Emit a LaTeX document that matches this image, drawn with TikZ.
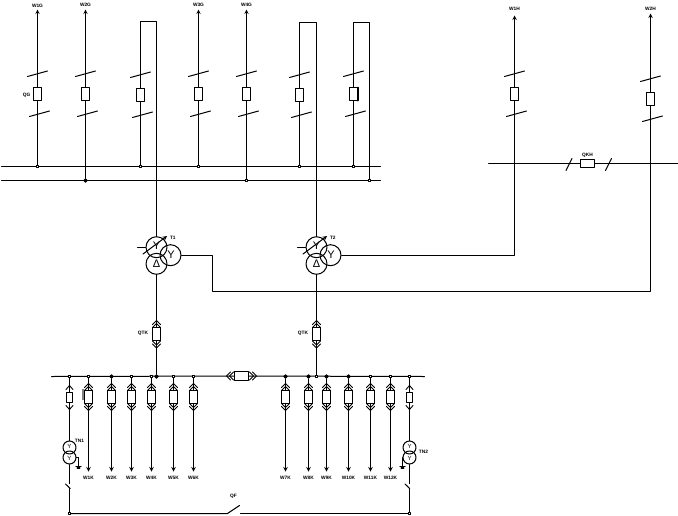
\documentclass[tikz,border=0pt]{standalone}
\usepackage{fontspec}
\setmainfont{Liberation Sans}
\begin{document}
\begin{tikzpicture}[x=1pt,y=-1pt,line join=round,line cap=round,>=stealth,line width=1pt]
	\tikzset{
		wlabel/.style={font=\fontsize{4.8}{5}\selectfont\bfseries,inner sep=0pt},
		brk/.style={draw,fill=white,minimum width=8pt,minimum height=13pt,inner sep=0pt},
		fuse/.style={draw,fill=white,minimum width=6pt,minimum height=10pt,inner sep=0pt},
		opendot/.style={draw,fill=white,rectangle,minimum size=2pt,inner sep=0pt},
		fulldot/.style={draw,fill=black,circle,minimum size=3.5pt,inner sep=0pt},
		winding/.style={draw,circle,minimum size=21pt,inner sep=0pt},
		small/.style={draw,circle,minimum size=13pt,inner sep=0pt},
		sym/.style={font=\fontsize{11}{11}\selectfont,inner sep=0pt},
		chev/.pic={\draw[line width=.9pt] (-4,4)--(0,0)--(4,4);
			\draw[line width=.9pt] (-4,7)--(0,3)--(4,7);},
		chevone/.pic={\draw[line width=.9pt] (-3.5,4)--(0,0)--(3.5,4);}
	}
	\useasboundingbox (-.5,-.5) rectangle (677.5,514.5);
	% busbars
	\coordinate (awest) at (1,166);
	\coordinate (aeast) at (380,166);
	\coordinate (bwest) at (1,180);
	\coordinate (beast) at (380,180);
	\draw (awest)--(aeast);
	\draw (bwest)--(beast);
	\node[brk,minimum width=14pt,minimum height=8pt] (qkh) at (587,163) {};
	\coordinate (cwest) at (488,163);
	\coordinate (ceast) at (678,163);
	\draw (cwest)--(qkh)--(ceast);
	\node[wlabel] (lqkh) at (587,154.5) {QKH};
	\draw (565.5,170)--(571.5,158);
	\draw (605,170)--(611,158);
	% breakers on the top feeders
	\foreach \n/\x/\yc in {a/37/93.5,b/85/93.5,c/140/94.5,d/198/93.5,e/246/93.5,f/299/94.5,g/353/93.5,h/514/93.5,i/650/98.5}{
		\node[brk] (q\n) at (\x,\yc) {};
		\draw ({\x-10},{\yc-17.5})--({\x+10},{\yc-23});
		\draw ({\x-8},{\yc+22.5})--({\x+12},{\yc+17});
	}
	\draw[line width=2pt] (357.5,87)--(357.5,100);
	\node[wlabel] (lqg) at (26,95) {QG};
	% feeders with an arrow
	\foreach \n/\x/\ytop/\ylab/\txt in {a/37/9/5.5/W1G,b/85/9/4/W2G,d/198/9/4/W3G,e/246/9/4/W4G,h/514/15/8/W1H,i/650/13/8/W2H}{
		\coordinate (top\n) at (\x,\ytop);
		\draw[->] (q\n)--(top\n);
		\node[wlabel] (l\n) at (\x,\ylab) {\txt};
	}
	% bus points of the top feeders
	\node[opendot] (da) at (37,166) {};
	\node[fulldot] (db) at (85,180) {};
	\node[opendot] (dc) at (140,166) {};
	\node[opendot] (dd) at (198,166) {};
	\node[opendot] (de) at (246,180) {};
	\node[opendot] (df) at (299,166) {};
	\node[opendot] (dg) at (353,166) {};
	\node[opendot] (dg2) at (369,180) {};
	\foreach \n in {a,b,c,d,e,f,g}
	\draw (q\n)--(d\n);
	\coordinate (topg) at (369,22);
	\draw (qg.north) |- (topg)--(dg2);
	% transformers
	\foreach \n/\x/\txt in {1/156/T1,2/316/T2}{
		\node[winding] (t\n u) at (\x,246.7) {};
		\node[winding] (t\n l) at (\x,263.3) {};
		\node[winding] (t\n r) at ({\x+14},254.7) {};
		\node[sym] (y\n u) at (\x,245.5) {Y};
		\node[sym] (y\n r) at ({\x+14.5},254.7) {Y};
		\node[sym] (y\n l) at (\x,263.5) {Δ};
		\coordinate (st\n) at ({\x-19},246.7);
		\draw (st\n)--(t\n u);
		\draw[->] ({\x-13.5},253.5)--({\x+10.5},235.5);
		\node[wlabel,anchor=west] (lt\n) at ({\x+13},237.5) {\txt};
		\node[brk] (qtk\n) at (\x,333.5) {};
		\pic at (\x,320) {chev};
		\pic[rotate=180] at (\x,347.5) {chev};
		\node[wlabel] (lqtk\n) at ({\x-13.5},333) {QTK};
		\draw (t\n l)--(qtk\n);
	}
	\coordinate (tc) at (156,21);
	\coordinate (tf) at (316,22);
	\draw (qc.north) |- (tc)--(t1u);
	\draw (qf.north) |- (tf)--(t2u);
	\coordinate (lnk) at (212,291);
	\draw (t1r.east) -| (lnk) -| (qi.south);
	\draw (t2r.east) -| (qh.south);
	% low voltage bus
	\coordinate (lvwest) at (51,376);
	\coordinate (lveast) at (424,376);
	\node[brk,minimum width=14pt,minimum height=9pt] (qk) at (241,375.5) {};
	\draw (lvwest)--(qk)--(lveast);
	\pic[rotate=90] at (226,375.5) {chev};
	\pic[rotate=-90] at (256,375.5) {chev};
	\node[fulldot] (jt1) at (156,376) {};
	\node[opendot] (jt2) at (316,376) {};
	\draw (qtk1)--(jt1);
	\draw (qtk2)--(jt2);
	% low voltage feeders
	\foreach \n/\x/\dot/\txt in {1/88/opendot/W1K,2/111/fulldot/W2K,3/131/opendot/W3K,4/151/opendot/W4K,5/173/opendot/W5K,6/193/opendot/W6K,7/285/fulldot/W7K,8/308/fulldot/W8K,9/326/fulldot/W9K,10/348/fulldot/W10K,11/370/opendot/W11K,12/390/opendot/W12K}{
		\node[\dot] (k\n) at (\x,376) {};
		\node[brk] (qf\n) at (\x,396.5) {};
		\coordinate (e\n) at (\x,471);
		\draw (k\n)--(qf\n);
		\draw[->] (qf\n)--(e\n);
		\pic at (\x,383) {chev};
		\pic[rotate=180] at (\x,410) {chev};
		\node[wlabel] (lk\n) at (\x,477.5) {\txt};
	}
	\draw[gray,line width=2.5pt,line cap=butt] (82.5,388)--(82.5,399);
	% voltage transformers and the tie
	\foreach \n/\x/\gx/\bx/\gs in {1/69/78/65/east,2/409/402/404.5/west}{
		\node[opendot] (p\n) at (\x,376) {};
		\node[fuse] (fu\n) at (\x,397) {};
		\pic at (\x,385) {chevone};
		\pic[rotate=180] at (\x,409) {chevone};
		\node[small] (tn\n u) at (\x,447) {};
		\node[small] (tn\n l) at (\x,457) {};
		\node[wlabel,font=\fontsize{6}{6}\selectfont] (yn\n u) at (\x,446) {Y};
		\node[wlabel,font=\fontsize{6}{6}\selectfont] (yn\n l) at (\x,458) {Y};
		\coordinate (g\n) at (\gx,466);
		\draw (tn\n l.\gs) -| (g\n);
		\draw ({\gx-2.7},466)--({\gx+2.7},466);
		\draw[line width=1.5pt] ({\gx-1.2},467.5)--({\gx+1.2},467.5);
		\coordinate (sa\n) at (\x,483);
		\coordinate (sb\n) at (\x,488);
		\draw (p\n)--(fu\n)--(tn\n u);
		\draw (tn\n l)--(sa\n);
		\draw (\bx,483.5)--(\bx+4.7,488);
		\node[opendot] (c\n) at (\x,513) {};
		\draw (sb\n)--(c\n);
	}
	\node[wlabel] (ltn1) at (79,440) {TN1};
	\node[wlabel] (ltn2) at (423,451) {TN2};
	\coordinate (qfa) at (227,513);
	\coordinate (qfb) at (240,513);
	\draw (c1)--(qfa)--(239,505);
	\draw (qfb)--(c2);
	\node[wlabel] (lqf) at (233,496) {QF};
\end{tikzpicture}
\end{document}
